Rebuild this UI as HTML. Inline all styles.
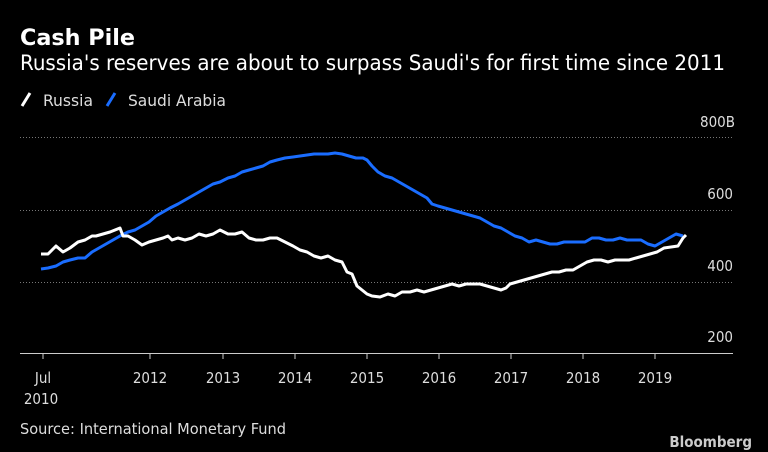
<!DOCTYPE html>
<html><head><meta charset="utf-8"><style>
html,body{margin:0;padding:0;background:#000;}
svg{display:block;}
text{font-family:"DejaVu Sans Condensed","Liberation Sans",sans-serif;fill:#ddd;}
</style></head><body>
<svg width="768" height="452" viewBox="0 0 768 452" xmlns="http://www.w3.org/2000/svg">
<rect width="768" height="452" fill="#000"/>
<text x="20" y="45" font-size="22" font-weight="bold" textLength="115" lengthAdjust="spacingAndGlyphs" style="fill:#fff">Cash Pile</text>
<text x="20" y="70" font-size="21" textLength="705" lengthAdjust="spacingAndGlyphs" style="fill:#fff">Russia's reserves are about to surpass Saudi's for first time since 2011</text>
<line x1="22" y1="106" x2="30" y2="93" stroke="#fff" stroke-width="3"/>
<text x="43" y="106" font-size="16" textLength="50" lengthAdjust="spacingAndGlyphs">Russia</text>
<line x1="107" y1="106" x2="115" y2="93" stroke="#1a6dff" stroke-width="3"/>
<text x="128" y="106" font-size="16" textLength="98" lengthAdjust="spacingAndGlyphs">Saudi Arabia</text>
<g stroke="#777" stroke-width="1" stroke-dasharray="1,2">
<line x1="20" y1="137.5" x2="733" y2="137.5"/>
<line x1="20" y1="210.5" x2="733" y2="210.5"/>
<line x1="20" y1="282.5" x2="733" y2="282.5"/>
</g>
<line x1="20" y1="353.5" x2="733" y2="353.5" stroke="#ccc" stroke-width="1"/>
<g font-size="15" text-anchor="end">
<text x="735" y="127">800B</text>
<text x="733" y="199">600</text>
<text x="733" y="271">400</text>
<text x="733" y="342">200</text>
</g>
<g stroke="#ccc" stroke-width="1">
<line x1="43" y1="353" x2="43" y2="359"/><line x1="150" y1="353" x2="150" y2="359"/>
<line x1="223" y1="353" x2="223" y2="359"/><line x1="295" y1="353" x2="295" y2="359"/>
<line x1="367" y1="353" x2="367" y2="359"/><line x1="439" y1="353" x2="439" y2="359"/>
<line x1="511" y1="353" x2="511" y2="359"/><line x1="583" y1="353" x2="583" y2="359"/>
<line x1="655" y1="353" x2="655" y2="359"/>
</g>
<g font-size="15" text-anchor="middle">
<text x="43" y="383">Jul</text><text x="41" y="404">2010</text>
<text x="150" y="383">2012</text><text x="223" y="383">2013</text><text x="295" y="383">2014</text>
<text x="367" y="383">2015</text><text x="439" y="383">2016</text><text x="511" y="383">2017</text>
<text x="583" y="383">2018</text><text x="655" y="383">2019</text>
</g>
<text x="20" y="434" font-size="15" textLength="266" lengthAdjust="spacingAndGlyphs">Source: International Monetary Fund</text>
<text x="752" y="447" font-size="15" font-weight="bold" text-anchor="end" style="fill:#ccc">Bloomberg</text>
<polyline fill="none" stroke="#1a6dff" stroke-width="3" stroke-linejoin="round" points="41,269 48,268 56,266 63,262 70,260 78,258 85,258 92,252 99,248 106,244 113,240 120,236 128,232 135,230 142,226 149,222 156,216 163,212 170,208 178,204 185,200 192,196 199,192 206,188 213,184 220,182 228,178 235,176 242,172 249,170 256,168 263,166 270,162 277,160 285,158 293,157 300,156 307,155 314,154 321,154 328,154 335,153 342,154 349,156 356,158 363,158 367,160 372,166 378,172 385,176 392,178 399,182 406,186 413,190 420,194 427,198 432,204 438,206 445,208 452,210 459,212 466,214 473,216 480,218 487,222 494,226 501,228 508,232 515,236 522,238 529,242 536,240 543,242 550,244 557,244 564,242 571,242 578,242 585,242 592,238 599,238 606,240 613,240 620,238 627,240 634,240 641,240 648,244 655,246 662,242 669,238 676,234 683,236"/>
<polyline fill="none" stroke="#fff" stroke-width="3" stroke-linejoin="round" points="41,254 48,254 56,246 63,252 70,248 78,242 85,240 92,236 96,236 103,234 110,232 115,230 120,228 123,236 128,236 135,240 142,245 149,242 156,240 163,238 168,236 172,240 178,238 185,240 192,238 199,234 206,236 213,234 220,230 228,234 235,234 242,232 249,238 256,240 263,240 270,238 277,238 285,242 293,246 300,250 307,252 314,256 321,258 328,256 335,260 342,262 347,272 352,274 357,286 362,290 367,294 372,296 380,297 388,294 395,296 402,292 410,292 417,290 424,292 431,290 438,288 445,286 452,284 459,286 466,284 473,284 480,284 487,286 494,288 501,290 506,288 510,284 517,282 524,280 531,278 538,276 545,274 552,272 559,272 566,270 573,270 580,266 587,262 594,260 601,260 608,262 615,260 622,260 629,260 636,258 643,256 650,254 657,252 664,248 671,247 678,246 683,238 686,235"/>
</svg>
</body></html>
